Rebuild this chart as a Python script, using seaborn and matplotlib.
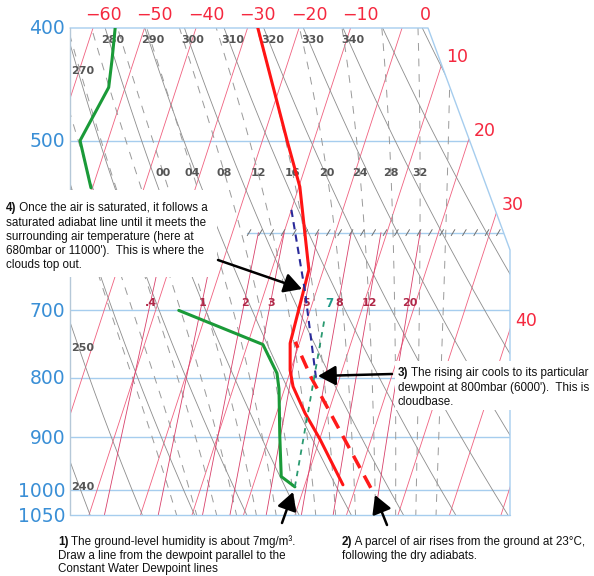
import numpy as np
import matplotlib
matplotlib.use("Agg")
import matplotlib.pyplot as plt
import seaborn as sns
from matplotlib.patches import Polygon, Rectangle, FancyArrowPatch

# ---------------- sounding (pressure hPa, temperature degC) ----------------
temp_p = [400, 500, 548, 646, 747, 788, 814, 858, 904, 989]
temp_t = [-28.0, -15.2, -9.8, -2.8, -1.8, -0.1, 1.5, 5.5, 10.1, 17.4]

dew_upper_p = [400, 426, 450, 500, 549]
dew_upper_t = [-55.7, -54.3, -53.2, -55.4, -50.3]
dew_lower_p = [700, 749, 793, 818, 899, 973, 993]
dew_lower_t = [-25.5, -7.0, -2.45, -1.07, 2.1, 4.9, 8.2]

# rising parcel: dry ascent, then saturated ascent above cloud base
parcel_p = [995, 800, 745]
parcel_t = [23.0, 4.5, -0.9]
moist_p = [800, 674, 571]
moist_t = [5.4, -2.2, -10.2]
# constant water-vapour line from the surface dewpoint
humid_p = [993, 710]
humid_t = [8.2, 3.3]

# ---------------- diagram furniture ----------------
pressure_levels = [400, 500, 700, 800, 900, 1000, 1050]
pressure_labels = ["400", "500", "700", "800", "900", "1000", "1050"]
isotherms = list(range(-100, 60, 10))
isotherm_labels = [-60, -50, -40, -30, -20, -10, 0, 10, 20, 30, 40]
dry_adiabats = list(range(230, 470, 10))
dry_top_labels = [280, 290, 300, 310, 320, 330, 340]
dry_side_labels = [270, 250, 240]
dry_side_label_p = [436, 754, 993]
moist_adiabats = list(range(-16, 40, 4))
moist_labels = [0, 4, 8, 12, 16, 20, 24, 28, 32]
moist_label_p = 533
mixing_ratios = [0.4, 1, 2, 3, 5, 8, 12, 20]
mixing_labels = [".4", "1", "2", "3", "5", "8", "12", "20"]
mixing_label_p = 700

SKEW = 31.9          # degC of skew per unit ln(p)
X_LEFT, X_RIGHT = -35.24, 50.19
X_TOP_RIGHT = 34.27
P_CORNER = 621.0
P_TOP, P_BOT = 400.0, 1050.0


def skx(t, p):
    return np.asarray(t, float) + SKEW * np.log(1000.0 / np.asarray(p, float))


def boundary_x(p):
    p = np.asarray(p, float)
    diag = X_TOP_RIGHT + (X_RIGHT - X_TOP_RIGHT) * np.log(p / P_TOP) / np.log(P_CORNER / P_TOP)
    return np.where(p < P_CORNER, diag, X_RIGHT)


def sat_vp(tc):
    return 6.112 * np.exp(17.67 * tc / (tc + 243.5))


def mixing_ratio_dewpoint(w, p):
    e = w * p / (622.0 + w)
    a = np.log(e / 6.112)
    return a * 243.5 / (17.67 - a)


def pseudo_adiabat(tw, p_up, p_dn):
    Rd, cp, Lv, eps = 287.04, 1005.7, 2.501e6, 0.622

    def dtdp(T, p):
        es = sat_vp(T - 273.15)
        rs = eps * es / (p - es)
        return (Rd * T + Lv * rs) / p / (cp + Lv * Lv * rs * eps / (Rd * T * T))

    def run(pgrid):
        T = tw + 273.15
        out = [T]
        for a, b in zip(pgrid[:-1], pgrid[1:]):
            h = b - a
            k1 = dtdp(T, a)
            k2 = dtdp(T + 0.5 * h * k1, a + 0.5 * h)
            k3 = dtdp(T + 0.5 * h * k2, a + 0.5 * h)
            k4 = dtdp(T + h * k3, b)
            T = T + h * (k1 + 2 * k2 + 2 * k3 + k4) / 6
            out.append(T)
        return np.array(out) - 273.15

    up = run(p_up)
    dn = run(p_dn)
    p = np.concatenate([p_dn[::-1], p_up[1:]])
    t = np.concatenate([dn[::-1], up[1:]])
    return p, t


W, H = 594, 576
sns.set_theme(style="white")
fig = plt.figure(figsize=(W / 100, H / 100), dpi=100)
ax = fig.add_axes([70 / W, (H - 515) / H, 440 / W, 487 / H])
ax.set_yscale("log")
ax.set_xlim(X_LEFT, X_RIGHT)
ax.set_ylim(P_BOT, P_TOP)
ax.set_axis_off()

frame_xy = [(X_LEFT, P_TOP), (X_TOP_RIGHT, P_TOP), (X_RIGHT, P_CORNER),
            (X_RIGHT, P_BOT), (X_LEFT, P_BOT)]
clip = Polygon(frame_xy, closed=True, transform=ax.transData)

PBLUE = "#a6cdee"
pf = np.geomspace(P_BOT, P_TOP, 200)


def grid_line(x, p, **kw):
    ln, = ax.plot(x, p, **kw)
    ln.set_clip_path(clip)
    return ln


# isobars
for p in pressure_levels[1:-1]:
    grid_line([X_LEFT, X_RIGHT], [p, p], color=PBLUE, lw=1.0, zorder=1)
# partial 600 hPa line with hatch ticks
x600 = (247 - 251.5) / 5.15
grid_line([x600, X_RIGHT], [600, 600], color=PBLUE, lw=1.0, zorder=1)
tick_x = np.arange(x600 + 0.4, float(boundary_x(600)) - 0.5, 2.2)
for tx in tick_x:
    grid_line([tx - 0.35, tx + 0.35], [600 * np.exp(3 / 505), 600 * np.exp(-3 / 505)],
              color="#707070", lw=0.7, zorder=2)

# isotherms
for t in isotherms:
    grid_line(skx(t, pf), pf, color="#f0607f", lw=0.6, zorder=1)
# dry adiabats
for th in dry_adiabats:
    tt = th * (pf / 1000.0) ** 0.2857 - 273.15
    grid_line(skx(tt, pf), pf, color="#8c8c8c", lw=0.6, zorder=1)
# saturated adiabats
p_up = np.geomspace(1000, 395, 300)
p_dn = np.geomspace(1000, 1055, 20)
moist_curves = {}
for tw in moist_adiabats:
    pp, tt = pseudo_adiabat(tw, p_up, p_dn)
    moist_curves[tw] = (pp, tt)
    grid_line(skx(tt, pp), pp, color="#9a9a9a", lw=0.7, ls=(0, (8, 8)), zorder=1)
# mixing-ratio lines
pm = np.geomspace(P_BOT, 600, 80)
for w in mixing_ratios:
    grid_line(skx(mixing_ratio_dewpoint(w, pm), pm), pm, color="#d8406a", lw=0.6, zorder=1)

# frame
ax.plot([X_LEFT, X_TOP_RIGHT, X_RIGHT, X_RIGHT], [P_TOP, P_TOP, P_CORNER, P_BOT],
        color=PBLUE, lw=1.0, zorder=2, clip_on=False)
ax.plot([X_LEFT, X_RIGHT], [P_BOT, P_BOT], color=PBLUE, lw=1.0, zorder=2, clip_on=False)
ax.plot([X_LEFT, X_LEFT], [P_TOP, P_BOT], color="#b5c8d8", lw=1.0, zorder=2, clip_on=False)

# ---------------- labels ----------------
for p, lab in zip(pressure_levels, pressure_labels):
    ax.annotate(lab, xy=(X_LEFT, p), xytext=(-5, -1), textcoords="offset pixels",
                ha="right", va="center", fontsize=13.5, color="#3a8fd6", family="DejaVu Sans")

TRED = "#f5283f"
pcheck = np.geomspace(P_TOP, P_BOT, 4000)
for t in isotherm_labels:
    xs = skx(t, pcheck)
    inside = (xs <= boundary_x(pcheck)) & (xs >= X_LEFT)
    i = int(np.argmax(inside))
    lab = f"{t}".replace("-", "\u2212")
    if i == 0:
        ax.annotate(lab, xy=(xs[0], P_TOP), xytext=(28.5, 13), textcoords="offset pixels",
                    ha="right", va="center", fontsize=12.5, color=TRED)
    else:
        ax.annotate(lab, xy=(xs[i], pcheck[i]), xytext=(5, 8), textcoords="offset pixels",
                    ha="left", va="center", fontsize=12.5, color=TRED)

GLAB = "#555555"
for th in dry_top_labels:
    pl = 410.0
    tt = th * (pl / 1000.0) ** 0.2857 - 273.15
    ax.annotate(str(th), xy=(float(skx(tt, pl)), pl), xytext=(4, 0), textcoords="offset pixels",
                ha="center", va="center", fontsize=8, weight="bold", color=GLAB)
for th, pl in zip(dry_side_labels, dry_side_label_p):
    ax.annotate(str(th), xy=(X_LEFT, pl), xytext=(1, 0), textcoords="offset pixels",
                ha="left", va="center", fontsize=8, weight="bold", color=GLAB)
for tw in moist_labels:
    pp, tt = moist_curves[tw]
    xl = float(np.interp(np.log(moist_label_p), np.log(pp[::-1]), skx(tt, pp)[::-1]))
    ax.annotate(f"{tw:02d}", xy=(xl, moist_label_p), ha="center", va="center",
                fontsize=8, weight="bold", color=GLAB)
for w, lab in zip(mixing_ratios, mixing_labels):
    xl = float(skx(mixing_ratio_dewpoint(w, mixing_label_p), mixing_label_p))
    ax.annotate(lab, xy=(xl, mixing_label_p), xytext=(2, 7), textcoords="offset pixels",
                ha="center", va="center", fontsize=8, weight="bold", color="#b02848")
ax.annotate("7", xy=(float(skx(mixing_ratio_dewpoint(7, 700), 700)), 700), xytext=(2, 7),
            textcoords="offset pixels", ha="center", va="center", fontsize=8.5,
            weight="bold", color="#1f9a8a")

# ---------------- sounding ----------------
sns.lineplot(x=skx(temp_t, temp_p), y=temp_p, sort=False, estimator=None,
             color="#ff1414", lw=2.2, ax=ax, zorder=5)
sns.lineplot(x=skx(dew_upper_t, dew_upper_p), y=dew_upper_p, sort=False, estimator=None,
             color="#1a9a38", lw=2.2, ax=ax, zorder=5)
sns.lineplot(x=skx(dew_lower_t, dew_lower_p), y=dew_lower_p, sort=False, estimator=None,
             color="#1a9a38", lw=2.2, ax=ax, zorder=5)
sns.lineplot(x=skx(parcel_t, parcel_p), y=parcel_p, sort=False, estimator=None,
             color="#ff1a1a", lw=2.5, ls=(0, (4, 2.5)), ax=ax, zorder=6)
sns.lineplot(x=skx(moist_t, moist_p), y=moist_p, sort=False, estimator=None,
             color="#2a2a9a", lw=1.5, ls=(0, (3.5, 2.5)), ax=ax, zorder=6)
sns.lineplot(x=skx(humid_t, humid_p), y=humid_p, sort=False, estimator=None,
             color="#2a9a70", lw=1.3, ls=(0, (3, 3)), ax=ax, zorder=6)
ax.set_xlim(X_LEFT, X_RIGHT)
ax.set_ylim(P_BOT, P_TOP)

# ---------------- notes ----------------
def fx(x):
    return x / W


def fy(y):
    return 1 - y / H


for (x0, y0, x1, y1) in [(0, 190, 217, 277), (395, 361, 594, 410)]:
    fig.patches.append(Rectangle((fx(x0), fy(y1)), (x1 - x0) / W, (y1 - y0) / H,
                                 transform=fig.transFigure, facecolor="white",
                                 edgecolor="none", zorder=1))

NOTE = dict(family="Liberation Sans", fontsize=8.4, color="#111111", va="center", zorder=4)
renderer = fig.canvas.get_renderer()


def note(x, ys, num, lines):
    t = fig.text(fx(x), fy(ys[0]), num, weight="bold", **NOTE)
    bb = t.get_window_extent(renderer=renderer)
    fig.text(bb.x1 / W, fy(ys[0]), " " + lines[0], **NOTE)
    for y, s in zip(ys[1:], lines[1:]):
        fig.text(fx(x), fy(y), s, **NOTE)


note(6, [208, 223, 237, 251, 265], "4)",
     ["Once the air is saturated, it follows a",
      "saturated adiabat line until it meets the",
      "surrounding air temperature (here at",
      "680mbar or 11000').  This is where the",
      "clouds top out."])
note(398, [373, 388, 402], "3)",
     ["The rising air cools to its particular",
      "dewpoint at 800mbar (6000').  This is",
      "cloudbase."])
note(58, [542, 556, 569], "1)",
     ["The ground-level humidity is about 7mg/m\u00b3.",
      "Draw a line from the dewpoint parallel to the",
      "Constant Water Dewpoint lines"])
note(342, [542, 556], "2)",
     ["A parcel of air rises from the ground at 23\u00b0C,",
      "following the dry adiabats."])

for (xa, ya), (xb, yb) in [((218, 260), (302, 289)), ((392, 374), (318, 376)),
                           ((282, 523), (293, 492)), ((387, 525), (375, 495))]:
    fig.patches.append(FancyArrowPatch((fx(xa), fy(ya)), (fx(xb), fy(yb)),
                                       transform=fig.transFigure,
                                       arrowstyle="-|>,head_length=0.9,head_width=0.5",
                                       mutation_scale=12, lw=1.8, color="black", zorder=5,
                                       shrinkA=0, shrinkB=0))

fig.savefig("out.png", dpi=100)
